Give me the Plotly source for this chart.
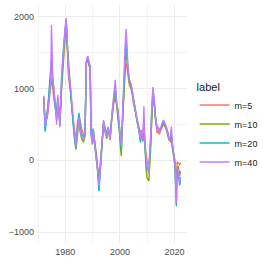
import plotly.graph_objects as go

years = [1972.1, 1972.4, 1972.6, 1972.9, 1973.3, 1973.6, 1973.9, 1974.3, 1974.6, 1974.9,
         1975.1, 1975.4, 1975.8, 1976.2, 1976.5, 1976.8, 1977.2, 1977.6, 1978.0, 1978.5,
         1979.0, 1979.4, 1979.9, 1980.3, 1980.7, 1981.2, 1981.7, 1982.1, 1982.6, 1983.1,
         1983.5, 1983.9, 1984.5, 1985.0, 1985.4, 1985.9, 1986.6, 1987.2, 1987.7, 1988.2,
         1988.6, 1989.1, 1989.4, 1989.9, 1990.2, 1990.6, 1991.1, 1991.5, 1991.8, 1992.1,
         1992.3, 1992.7, 1993.1, 1993.5, 1994.0, 1994.5, 1995.2, 1995.7, 1996.4, 1997.0,
         1997.4, 1997.7, 1998.3, 1998.8, 1999.3, 1999.8, 2000.2, 2000.5, 2001.0, 2001.5,
         2002.0, 2002.3, 2002.6, 2003.0, 2003.5, 2004.0, 2004.5, 2004.9, 2005.5, 2005.9,
         2006.4, 2006.9, 2007.5, 2007.9, 2008.4, 2008.8, 2009.1, 2009.6, 2010.0, 2010.6,
         2011.2, 2011.6, 2012.1, 2012.6, 2013.0, 2013.6, 2014.0, 2014.5, 2015.0, 2015.5,
         2016.0, 2016.5, 2017.0, 2017.5, 2018.0, 2018.5, 2018.9, 2019.2, 2019.7, 2020.2,
         2020.4, 2020.7, 2021.0, 2021.4, 2021.9, 2022.2]

m40 = [900, 640, 460, 540, 600, 700, 830, 980, 1060, 1880,
       1300, 1150, 1000, 730, 620, 500, 910, 730, 460, 1100,
       1420, 1650, 1840, 1980, 1650, 1190, 1100, 910, 640, 450,
       330, 200, 480, 600, 430, 330, 290, 380, 1390, 1450,
       1370, 1300, 380, 240, 420, 290, 150, 10, -130, -270,
       -360, -180, 10, 280, 560, 420, 330, 470, 290, 610,
       790, 890, 1120, 800, 700, 470, 290, 200, 650, 1250,
       1670, 1830, 1530, 1260, 1120, 1070, 980, 840, 750, 660,
       560, 470, 300, 420, 300, 750, 280, 40, -90, -180,
       240, 700, 1020, 840, 610, 430, 470, 400, 470, 520,
       560, 520, 470, 380, 290, 330, 470, 240, 100, -40,
       -320, -600, -90, -130, -320, -230]

m20 = [880, 600, 400, 500, 620, 760, 900, 1100, 1300, 1420,
       1250, 1080, 960, 760, 680, 560, 880, 740, 480, 1060,
       1380, 1600, 1800, 1960, 1620, 1250, 1080, 880, 600, 400,
       280, 180, 500, 660, 480, 380, 320, 360, 1370, 1440,
       1380, 1310, 400, 260, 440, 300, 160, 20, -120, -300,
       -430, -220, -20, 300, 540, 460, 360, 450, 320, 600,
       760, 850, 1000, 780, 680, 430, 250, 150, 620, 1180,
       1550, 1650, 1450, 1240, 1100, 1060, 970, 860, 760, 640,
       520, 420, 250, 380, 280, 560, 220, 0, -120, -150,
       200, 650, 980, 820, 620, 460, 440, 420, 450, 500,
       540, 500, 460, 400, 320, 300, 360, 220, 60, -80,
       -350, -640, -150, -180, -350, -280]

m10 = [860, 620, 440, 520, 640, 720, 850, 1050, 1250, 1350,
       1230, 1100, 980, 800, 700, 600, 860, 720, 500, 1000,
       1330, 1560, 1760, 1930, 1600, 1220, 1050, 850, 560, 380,
       240, 150, 420, 560, 400, 310, 250, 330, 1360, 1420,
       1340, 1290, 360, 220, 400, 250, 100, -40, -160, -240,
       -300, -150, 30, 260, 520, 400, 300, 430, 280, 580,
       740, 820, 950, 760, 660, 400, 180, 60, 560, 1100,
       1420, 1500, 1380, 1200, 1080, 1040, 950, 830, 740, 620,
       520, 440, 320, 380, 260, 500, 150, -120, -250, -290,
       100, 580, 940, 800, 580, 450, 420, 400, 440, 480,
       520, 500, 440, 380, 300, 280, 330, 180, 40, -60,
       -280, -350, -100, -80, -220, -150]

m5 = [820, 660, 520, 560, 600, 650, 760, 900, 1050, 1150,
      1100, 950, 850, 760, 700, 620, 820, 700, 540, 920,
      1250, 1480, 1700, 1880, 1560, 1150, 1000, 820, 600, 460,
      380, 320, 520, 620, 560, 450, 360, 340, 1340, 1430,
      1320, 1280, 420, 300, 430, 330, 200, 60, -80, -180,
      -250, -100, 60, 300, 500, 440, 350, 440, 330, 560,
      700, 780, 880, 760, 680, 480, 320, 250, 580, 1000,
      1280, 1350, 1280, 1150, 1040, 1000, 930, 800, 720, 640,
      560, 480, 380, 420, 330, 460, 260, 60, -20, -60,
      220, 600, 900, 780, 560, 380, 400, 360, 420, 460,
      500, 470, 430, 350, 280, 260, 300, 200, 80, 0,
      -200, -250, -20, -40, -60, -30]

labels = ["m=5", "m=10", "m=20", "m=40"]
colors = ["#F8766D", "#7CAE00", "#00BFC4", "#C77CFF"]
series = [m5, m10, m20, m40]

fig = go.Figure()
for lab, col, vals in zip(labels, colors, series):
    fig.add_trace(go.Scatter(x=years, y=vals, mode="lines", name=lab,
                             line=dict(color=col, width=1.4)))

font_family = "Liberation Sans, Arial, sans-serif"
fig.update_layout(
    width=263, height=263,
    margin=dict(l=37, r=76, t=5, b=20),
    plot_bgcolor="white", paper_bgcolor="white",
    font=dict(family=font_family, size=9, color="#4D4D4D"),
    xaxis=dict(range=[1969.6, 2024.6], tick0=1980, dtick=20, showgrid=True,
               gridcolor="#EBEBEB", gridwidth=1, zeroline=False, showline=False,
               ticks="", ticklabelstandoff=2,
               minor=dict(dtick=10, tick0=1970, showgrid=True, gridcolor="#F3F3F3", gridwidth=0.6),
               tickfont=dict(size=9, color="#4D4D4D")),
    yaxis=dict(range=[-1150, 2160], tickvals=[-1000, 0, 1000, 2000],
               ticktext=["\u22121000", "0", "1000", "2000"], showgrid=True,
               gridcolor="#EBEBEB", gridwidth=1, zeroline=False, showline=False,
               ticks="", ticklabelstandoff=2,
               minor=dict(tickvals=[-500, 500, 1500], showgrid=True, gridcolor="#F3F3F3", gridwidth=0.6),
               tickfont=dict(size=9, color="#4D4D4D")),
    legend=dict(title=dict(text="label", font=dict(size=11, color="#1A1A1A")),
                xref="container", yref="container", x=0.74, y=0.71,
                xanchor="left", yanchor="top", itemwidth=30,
                font=dict(size=9, color="#1A1A1A"), bgcolor="rgba(0,0,0,0)",
                tracegroupgap=0),
    showlegend=True,
)

fig.write_html("out.html", config={"displayModeBar": False},
               post_script="document.body.style.margin='0';document.body.style.overflow='hidden';")
